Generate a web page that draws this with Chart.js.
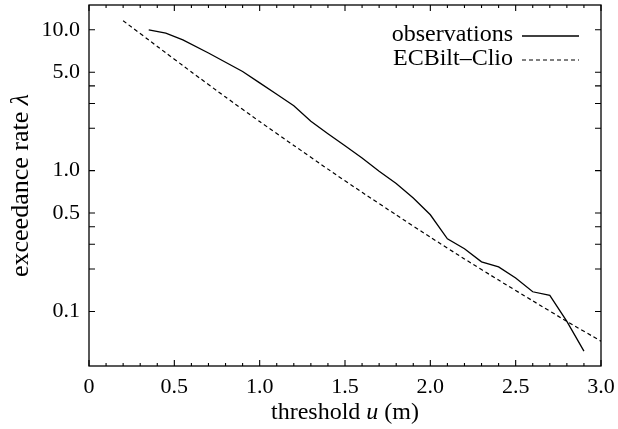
<!DOCTYPE html>
<html><head><meta charset="utf-8">
<script src="https://cdn.jsdelivr.net/npm/chart.js@4/dist/chart.umd.min.js"></script>
<style>html,body{margin:0;padding:0;background:#fff;}#wrap{width:618px;height:429px;}</style>
</head><body><div id="wrap"><canvas id="c" width="618" height="429"></canvas></div>
<script>
// observations (empirical exceedance rate)
const obsU    = [0.35, 0.45, 0.55, 0.7, 0.9, 1.0, 1.1, 1.2, 1.3, 1.4, 1.5, 1.6, 1.7, 1.8, 1.9, 2.0, 2.1, 2.2, 2.3, 2.4, 2.5, 2.6, 2.7, 2.8, 2.9];
const obsRate = [10.0, 9.48, 8.49, 6.84, 5.06, 4.20, 3.49, 2.89, 2.24, 1.83, 1.50, 1.23, 0.99, 0.81, 0.64, 0.486, 0.328, 0.279, 0.225, 0.207, 0.173, 0.138, 0.130, 0.085, 0.0523];
// ECBilt-Clio model
const modelU    = [0.2, 0.4, 0.6, 0.8, 1.0, 1.2, 1.4, 1.6, 1.8, 2.0, 2.2, 2.4, 2.6, 2.8, 3.0];
const modelRate = [11.6, 7.62, 5.02, 3.33, 2.23, 1.51, 1.025, 0.701, 0.485, 0.337, 0.236, 0.167, 0.119, 0.0851, 0.0615];

const seriesLabels = ['observations', 'ECBilt\u2013Clio'];
const xTickValues = [0, 0.5, 1, 1.5, 2, 2.5, 3];
const xTickLabels = ['0', '0.5', '1.0', '1.5', '2.0', '2.5', '3.0'];
const xMinorTicks = [0.1,0.2,0.3,0.4,0.6,0.7,0.8,0.9,1.1,1.2,1.3,1.4,1.6,1.7,1.8,1.9,2.1,2.2,2.3,2.4,2.6,2.7,2.8,2.9];
const yTickValues = [0.1, 0.5, 1, 5, 10];
const yTickLabels = ['0.1', '0.5', '1.0', '5.0', '10.0'];
const yMinorTicks = [0.2, 0.3, 0.4, 2, 3, 4];

const FONT = 'Liberation Serif';
const FS = 22;      // tick labels
const FS_X = 24;    // x title
const FS_Y = 26;    // y title
const FS_L = 24;    // legend

const framePlugin = {
  id: 'frame',
  afterDraw(chart) {
    const {ctx, chartArea: a, scales: {x, y}} = chart;
    ctx.save();
    ctx.strokeStyle = '#000';
    ctx.lineWidth = 1.3;
    ctx.setLineDash([]);
    ctx.strokeRect(a.left, a.top, a.right - a.left, a.bottom - a.top);
    ctx.lineWidth = 1.1;
    ctx.beginPath();
    const xt = (v, len) => {
      const px = x.getPixelForValue(v);
      ctx.moveTo(px, a.bottom); ctx.lineTo(px, a.bottom - len);
      ctx.moveTo(px, a.top); ctx.lineTo(px, a.top + len);
    };
    const yt = (v, len) => {
      const py = y.getPixelForValue(v);
      ctx.moveTo(a.left, py); ctx.lineTo(a.left + len, py);
      ctx.moveTo(a.right, py); ctx.lineTo(a.right - len, py);
    };
    xTickValues.forEach(v => xt(v, 6));
    xMinorTicks.forEach(v => xt(v, 3));
    yTickValues.forEach(v => yt(v, 6));
    yMinorTicks.forEach(v => yt(v, 6));
    ctx.stroke();

    // axis titles
    ctx.fillStyle = '#000';
    ctx.textBaseline = 'alphabetic';
    const parts = (segs, size, cx, cy, rot) => {
      ctx.save();
      ctx.translate(cx, cy);
      ctx.rotate(rot);
      let total = 0;
      segs.forEach(s => { ctx.font = s[1] + size + 'px "' + FONT + '"'; total += ctx.measureText(s[0]).width; });
      let cur = -total / 2;
      ctx.textAlign = 'left';
      segs.forEach(s => { ctx.font = s[1] + size + 'px "' + FONT + '"'; ctx.fillText(s[0], cur, 0); cur += ctx.measureText(s[0]).width; });
      ctx.restore();
    };
    parts([['threshold ', ''], ['u', 'italic '], [' (m)', '']], FS_X, (a.left + a.right) / 2, 419, 0);
    parts([['exceedance rate ', ''], ['\u03bb', 'italic ']], FS_Y, 28, (a.top + a.bottom) / 2, -Math.PI / 2);

    // legend
    chart.data.datasets.forEach((ds, i) => {
      const ly = 35 + i * 24;
      ctx.font = FS_L + 'px "' + FONT + '"';
      ctx.textAlign = 'right';
      ctx.textBaseline = 'middle';
      ctx.fillText(ds.label, 513, ly);
      ctx.beginPath();
      ctx.lineWidth = ds.borderWidth;
      ctx.setLineDash(ds.borderDash || []);
      ctx.moveTo(522, ly + 1); ctx.lineTo(579, ly + 1);
      ctx.stroke();
    });
    ctx.restore();
  }
};

new Chart(document.getElementById('c'), {
  type: 'scatter',
  data: {
    datasets: [
      { label: seriesLabels[0], data: obsU.map((u, i) => ({x: u, y: obsRate[i]})), showLine: true,
        borderColor: '#000', borderWidth: 1.3, pointRadius: 0, tension: 0 },
      { label: seriesLabels[1], data: modelU.map((u, i) => ({x: u, y: modelRate[i]})), showLine: true,
        borderColor: '#000', borderWidth: 1.2, borderDash: [4, 3], pointRadius: 0, tension: 0.2 }
    ]
  },
  options: {
    responsive: false, animation: false, devicePixelRatio: 1,
    layout: { padding: { top: 5, right: 17, left: 0, bottom: 0 } },
    plugins: { legend: { display: false }, tooltip: { enabled: false } },
    scales: {
      x: {
        type: 'linear', min: 0, max: 3,
        grid: { display: false, drawTicks: false }, border: { display: false },
        afterBuildTicks: s => { s.ticks = xTickValues.map(v => ({value: v})); },
        afterFit: s => { s.height = 63; s.paddingLeft = 0; s.paddingRight = 0; },
        ticks: { autoSkip: false, maxRotation: 0, padding: 8, color: '#000',
          font: { family: FONT, size: FS },
          callback: v => xTickLabels[xTickValues.indexOf(v)] }
      },
      y: {
        type: 'logarithmic', min: 0.041, max: 15,
        grid: { display: false, drawTicks: false }, border: { display: false },
        afterBuildTicks: s => { s.ticks = yTickValues.map(v => ({value: v})); },
        afterFit: s => { s.width = 89; s.paddingTop = 0; s.paddingBottom = 0; },
        ticks: { autoSkip: false, padding: 9, color: '#000',
          font: { family: FONT, size: FS },
          callback: v => yTickLabels[yTickValues.indexOf(v)] }
      }
    }
  },
  plugins: [framePlugin]
});
</script></body></html>
